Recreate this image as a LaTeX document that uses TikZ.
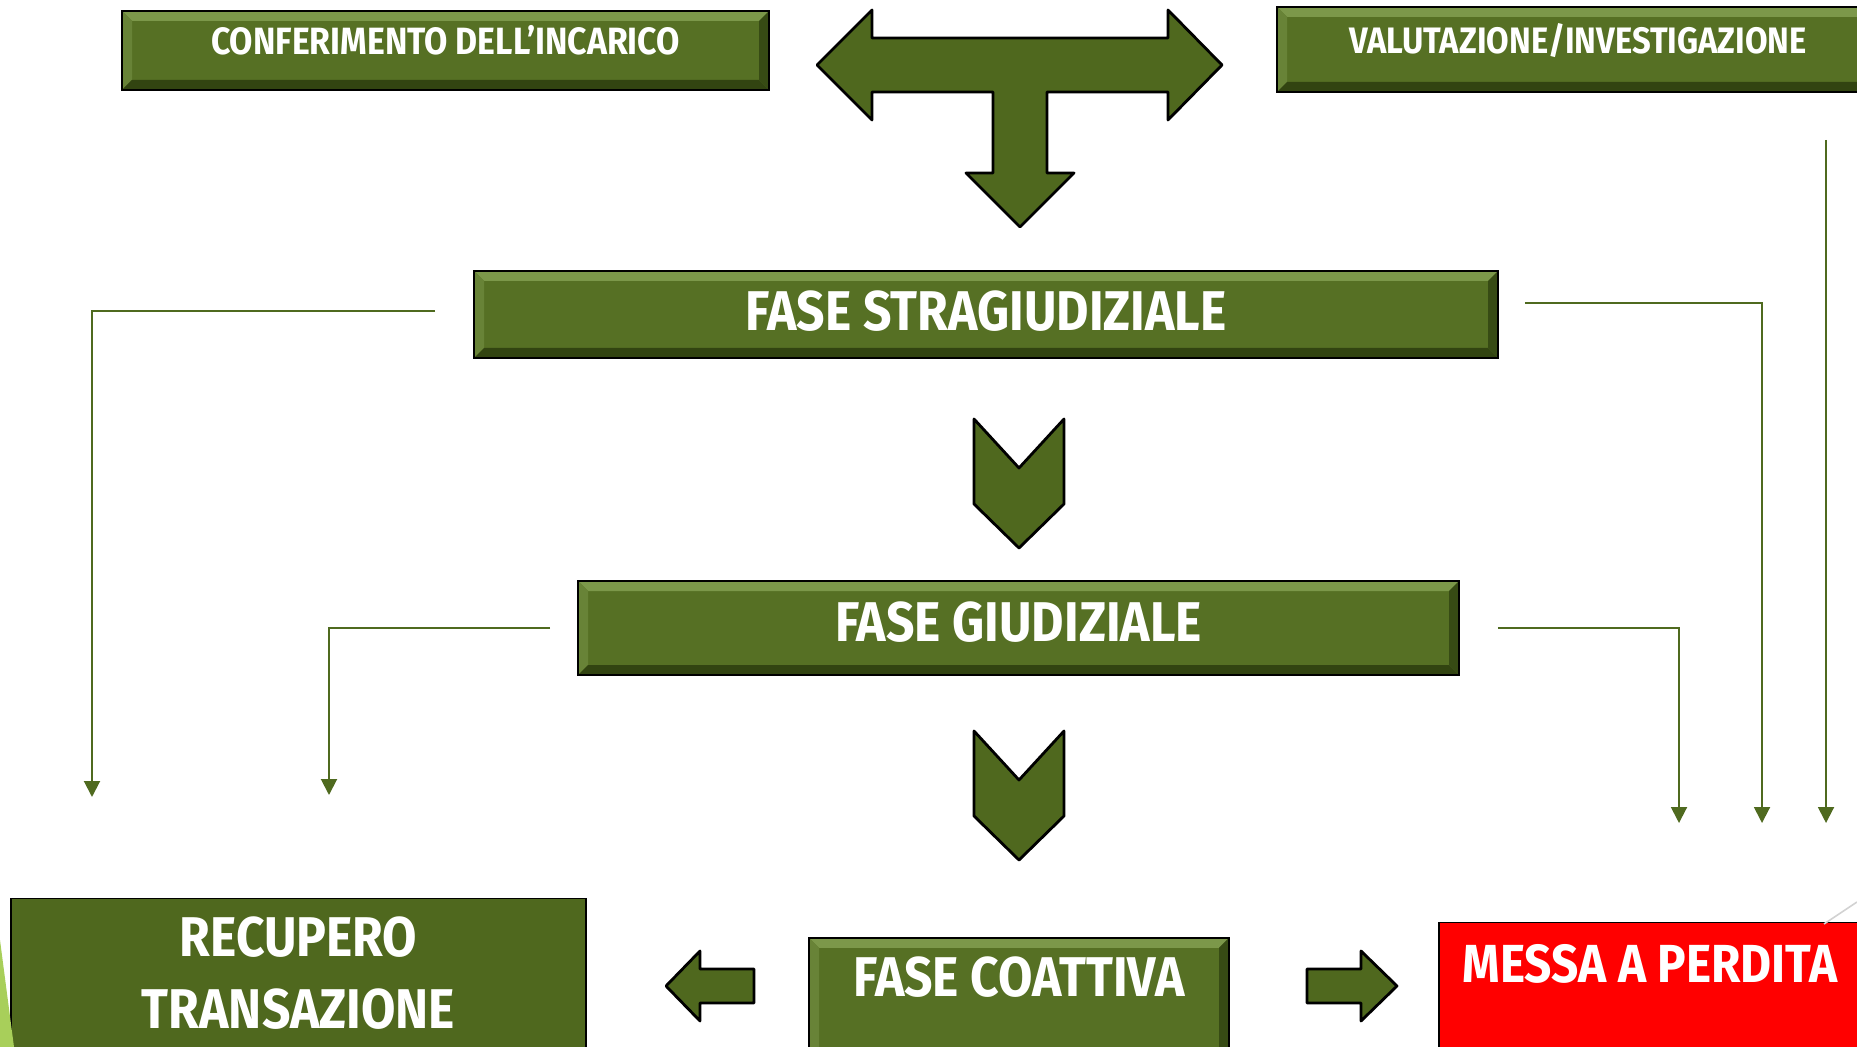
\documentclass[tikz,border=0pt]{standalone}
\usepackage{fontspec}
\setmainfont[FakeStretch=0.89]{Fira Sans}
\usepackage{tikz}
\usetikzlibrary{arrows.meta}
\definecolor{boxgreen}{RGB}{86,112,36}
\definecolor{arrowgreen}{RGB}{79,104,30}
\definecolor{bevlight}{RGB}{124,152,74}
\definecolor{bevmid}{RGB}{104,131,55}
\definecolor{bevdark}{RGB}{50,68,17}
\definecolor{linegreen}{RGB}{79,106,31}
\definecolor{slidegreen}{RGB}{168,207,90}
\newcommand{\bevelfill}{%
	\fill[bevlight] (path picture bounding box.north west) -- (path picture bounding box.north east)
		-- ([shift={(-5pt,-5pt)}]path picture bounding box.north east) -- ([shift={(5pt,-5pt)}]path picture bounding box.north west) -- cycle;
	\fill[bevmid] (path picture bounding box.north west) -- (path picture bounding box.south west)
		-- ([shift={(5pt,5pt)}]path picture bounding box.south west) -- ([shift={(5pt,-5pt)}]path picture bounding box.north west) -- cycle;
	\fill[bevdark] (path picture bounding box.south west) -- (path picture bounding box.south east)
		-- ([shift={(-5pt,5pt)}]path picture bounding box.south east) -- ([shift={(5pt,5pt)}]path picture bounding box.south west) -- cycle;
	\fill[bevdark!85!boxgreen] (path picture bounding box.north east) -- (path picture bounding box.south east)
		-- ([shift={(-5pt,5pt)}]path picture bounding box.south east) -- ([shift={(-5pt,-5pt)}]path picture bounding box.north east) -- cycle;}
\newcommand{\bigfont}{\fontsize{28}{36}\selectfont\bfseries}
\tikzset{
	phase/.style    = {draw=black, line width=0.8pt, fill=boxgreen, text=white, inner sep=0pt,
		font=\bigfont, text height=19.3pt, path picture={\bevelfill}},
	headbox/.style  = {phase, font=\fontsize{19}{23}\selectfont\bfseries, text height=13.1pt, text depth=8.9pt},
	outcome/.style  = {draw=black, line width=0.6pt, fill=arrowgreen, text=white, inner xsep=0pt,
		font=\bigfont, anchor=north},
	loss/.style     = {outcome, fill=red},
	bigarrow/.style = {draw=black, line width=1.4pt, line join=round, fill=arrowgreen},
	link/.style     = {draw=linegreen, line width=1pt}
}

\begin{document}
\begin{tikzpicture}[auto, x=0.5pt, y=-0.5pt, >={Triangle[width=8pt,length=8pt]}]
	\useasboundingbox (0,0) rectangle (1857,1047);
	\clip (0,0) rectangle (1857,1047);

	\draw
	node at (445.5,50.5) [headbox, minimum width=323.5pt, minimum height=39.5pt] (conf) {CONFERIMENTO DELL’INCARICO}
	node at (1578,49.5) [headbox, minimum width=301pt, minimum height=42.5pt,
		font=\fontsize{18.4}{23}\selectfont\bfseries] (valut) {VALUTAZIONE/INVESTIGAZIONE}
	node at (986,314.5) [phase, minimum width=512pt, minimum height=43.5pt, text depth=3pt] (strag) {FASE STRAGIUDIZIALE}
	node at (1018.5,628) [phase, minimum width=440.5pt, minimum height=47pt, text depth=6pt] (giud) {FASE GIUDIZIALE}
	node at (1019,937) [phase, anchor=north, minimum width=210pt, inner ysep=10pt,
		text depth=45pt] (coatt) {FASE COATTIVA}
	node at (298.5,898) [outcome, minimum width=287.5pt, inner ysep=9.25pt, align=center,
		text depth=20pt] (rec) {RECUPERO\\TRANSAZIONE}
	node at (1650,922) [loss, minimum width=211pt, inner ysep=10.75pt, font=\fontsize{26.8}{32}\selectfont\bfseries,
		text height=19.3pt, text depth=60pt] (perd) {MESSA A PERDITA};

	% big arrows
	\draw[bigarrow] (817,65) -- (872,10) -- (872,38) -- (1168,38) -- (1168,10) -- (1222,65)
		-- (1168,120) -- (1168,92) -- (1047,92) -- (1047,173) -- (1074,173) -- (1020,227)
		-- (966,173) -- (993,173) -- (993,92) -- (872,92) -- (872,120) -- cycle;
	\foreach \cy in {419,731}
		\draw[bigarrow] (974,\cy) -- (1019,\cy+49) -- (1064,\cy) -- (1064,\cy+85)
			-- (1019,\cy+129) -- (974,\cy+85) -- cycle;
	\draw[bigarrow] (666,986) -- (700,951) -- (700,969) -- (754,969) -- (754,1003)
		-- (700,1003) -- (700,1021) -- cycle;
	\draw[bigarrow] (1397,986) -- (1361,951) -- (1361,969) -- (1307,969) -- (1307,1003)
		-- (1361,1003) -- (1361,1021) -- cycle;

	% arrow ends
	\coordinate (rec1) at (92,797);
	\coordinate (rec2) at (329,795);
	\coordinate (per1) at (1679,823);
	\coordinate (per2) at (1762,823);
	\coordinate (per3) at (1826,823);

	\draw[link,->] ([xshift=-19pt,yshift=1.75pt]strag.west) -| (rec1);
	\draw[link,->] ([xshift=-13.5pt]giud.west) -| (rec2);
	\draw[link,->] ([xshift=13pt,yshift=5.75pt]strag.east) -| (per2);
	\draw[link,->] ([xshift=19pt]giud.east) -| (per1);
	\draw[link,->] ([xshift=124pt,yshift=-23.5pt]valut.south) -- (per3);

	% slide decoration
	\fill[slidegreen] (0,940) -- (14,1047) -- (0,1047) -- cycle;
	\draw[gray!35, line width=0.8pt] (1824,924) -- (1857,902);
\end{tikzpicture}
\end{document}
